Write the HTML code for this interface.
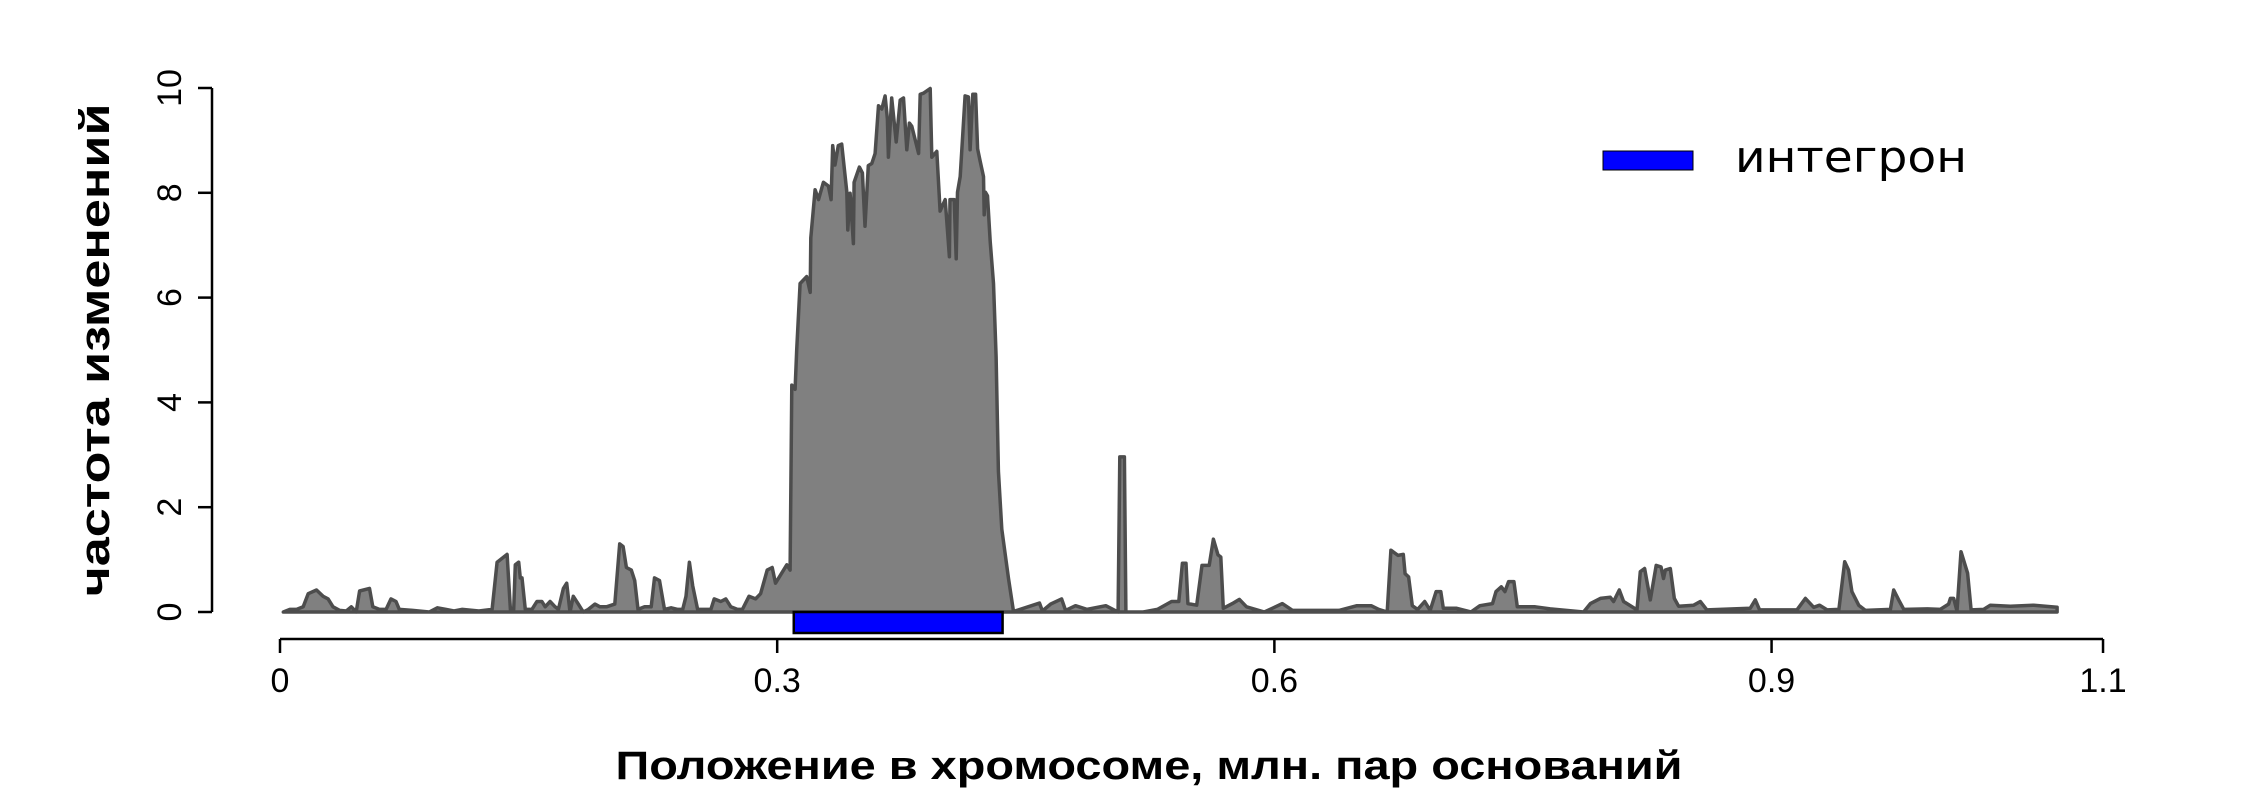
<!DOCTYPE html>
<html><head><meta charset="utf-8"><style>
html,body{margin:0;padding:0;background:#fff;}
svg{display:block;}
</style></head><body>
<svg id="chart" width="2261" height="800" xmlns="http://www.w3.org/2000/svg">
<g id="plot"></g>
<g id="axes"></g>
<text x="1149" y="779" text-anchor="middle" font-family="Liberation Sans, sans-serif" font-weight="bold" font-size="40" textLength="1067" lengthAdjust="spacingAndGlyphs">Положение в хромосоме, млн. пар оснований</text>
<text transform="translate(109,350) rotate(-90)" text-anchor="middle" font-family="Liberation Sans, sans-serif" font-weight="bold" font-size="42" textLength="493" lengthAdjust="spacingAndGlyphs">частота изменений</text>
<g>
<rect x="1603" y="151" width="90" height="19" fill="#0000ff" stroke="#000" stroke-width="1"/>
<text x="1735" y="172" font-family="DejaVu Sans, Liberation Sans, sans-serif" font-size="44" textLength="232" lengthAdjust="spacingAndGlyphs">интегрон</text>
</g>
</svg>
<script>
const posX = [0.002,0.006,0.010,0.014,0.017,0.022,0.026,0.029,0.032,0.036,0.040,0.043,0.046,0.048,0.054,0.056,0.060,0.064,0.067,0.070,0.072,0.080,0.090,0.095,0.100,0.105,0.110,0.120,0.128,0.131,0.137,0.139,0.141,0.142,0.144,0.145,0.146,0.148,0.152,0.155,0.158,0.160,0.163,0.166,0.168,0.171,0.173,0.175,0.177,0.180,0.183,0.186,0.190,0.193,0.197,0.202,0.205,0.207,0.209,0.212,0.214,0.216,0.220,0.224,0.226,0.229,0.232,0.236,0.240,0.243,0.245,0.247,0.249,0.252,0.260,0.262,0.266,0.269,0.272,0.276,0.279,0.283,0.287,0.290,0.294,0.297,0.299,0.3058,0.3078,0.3088,0.3108,0.3118,0.3138,0.3178,0.3199,0.3203,0.3229,0.3249,0.3279,0.3309,0.3325,0.3335,0.3349,0.3369,0.3389,0.3420,0.3426,0.3440,0.3460,0.3464,0.3496,0.3514,0.3530,0.3550,0.3571,0.3591,0.3611,0.3631,0.3651,0.3665,0.3671,0.3691,0.3718,0.3742,0.3762,0.3782,0.3798,0.3812,0.3853,0.3863,0.3883,0.3923,0.3933,0.3963,0.3983,0.4014,0.4039,0.4043,0.4053,0.4068,0.4080,0.4088,0.4104,0.4134,0.4154,0.4164,0.4180,0.4197,0.4209,0.4225,0.4245,0.4249,0.4257,0.4269,0.4285,0.4305,0.4321,0.4335,0.4355,0.4396,0.4426,0.4583,0.4600,0.4650,0.4716,0.4740,0.4800,0.4870,0.4983,0.5057,0.5067,0.5095,0.5104,0.5208,0.5294,0.5380,0.5423,0.5445,0.5467,0.5478,0.5531,0.5563,0.5607,0.5632,0.5660,0.5677,0.5692,0.5746,0.5789,0.5832,0.5940,0.6048,0.6110,0.6390,0.6498,0.6584,0.6630,0.6681,0.6703,0.6746,0.6778,0.6789,0.6810,0.6832,0.6864,0.6907,0.6940,0.6976,0.7004,0.7019,0.7100,0.7186,0.7240,0.7316,0.7337,0.7369,0.7391,0.7413,0.7445,0.7466,0.7574,0.7664,0.7866,0.7907,0.7967,0.8027,0.8047,0.8081,0.8107,0.8188,0.8208,0.8234,0.8268,0.8304,0.8333,0.8348,0.8359,0.8389,0.8413,0.8439,0.8530,0.8570,0.8610,0.8871,0.8902,0.8928,0.9153,0.9204,0.9254,0.9290,0.9335,0.9406,0.9441,0.9465,0.9485,0.9526,0.9566,0.9717,0.9737,0.9767,0.9798,0.9940,1.0018,1.0068,1.0079,1.0099,1.0119,1.0143,1.0183,1.0204,1.0280,1.0320,1.0441,1.0582,1.0723];
const freq = [0,0.05,0.05,0.1,0.35,0.42,0.3,0.25,0.1,0.03,0.02,0.1,0,0.4,0.45,0.1,0.05,0.05,0.25,0.2,0.05,0.03,0,0.08,0.05,0.02,0.05,0.02,0.05,0.95,1.1,0.05,0.05,0.9,0.95,0.65,0.65,0.05,0.05,0.2,0.2,0.1,0.2,0.1,0.05,0.45,0.55,0,0.3,0.15,0,0.05,0.15,0.1,0.1,0.15,1.3,1.25,0.85,0.8,0.6,0.05,0.1,0.1,0.65,0.6,0.05,0.08,0.05,0.05,0.3,0.95,0.5,0.05,0.05,0.25,0.2,0.25,0.1,0.05,0.05,0.3,0.25,0.35,0.8,0.85,0.55,0.9,0.8,4.33,4.25,5.0,6.27,6.4,6.1,7.14,8.06,7.87,8.2,8.13,7.87,8.9,8.53,8.9,8.93,8.02,7.29,7.99,7.03,8.2,8.49,8.38,7.36,8.52,8.56,8.75,9.66,9.6,9.85,9.41,8.68,9.81,8.97,9.77,9.81,8.82,9.33,9.27,8.75,9.88,9.9,9.99,8.68,8.79,7.65,7.87,6.78,7.87,7.87,7.87,6.74,8.01,8.31,9.85,9.83,8.82,9.88,9.88,8.84,8.6,8.31,7.58,8.01,7.94,7.07,6.27,4.88,2.69,1.58,0.64,0.01,0.17,0.02,0.15,0.25,0.03,0.12,0.05,0.12,0,2.96,2.96,0,0,0.05,0.2,0.2,0.93,0.93,0.16,0.13,0.89,0.89,1.39,1.09,1.05,0.07,0.16,0.24,0.1,0,0.16,0.03,0.03,0.12,0.12,0.05,0,1.18,1.08,1.1,0.73,0.67,0.12,0.05,0.2,0.03,0.39,0.39,0.07,0.07,0,0.12,0.16,0.39,0.48,0.39,0.58,0.58,0.1,0.1,0.06,0,0.16,0.26,0.28,0.2,0.42,0.2,0.04,0.77,0.83,0.23,0.89,0.86,0.64,0.8,0.83,0.26,0.11,0.13,0.2,0.04,0.07,0.23,0.04,0.04,0.26,0.09,0.13,0.04,0.05,0.96,0.8,0.39,0.13,0.03,0.05,0.42,0.23,0.05,0.06,0.05,0.15,0.26,0.26,0.02,1.15,0.74,0.04,0.05,0.13,0.11,0.13,0.09];
const xTicks = [0,0.3,0.6,0.9,1.1];
const xTickLabels = ["0","0.3","0.6","0.9","1.1"];
const yTicks = [0,2,4,6,8,10];
const yTickLabels = ["0","2","4","6","8","10"];
const integronStart = 0.31, integronEnd = 0.436;

const NS = "http://www.w3.org/2000/svg";
function sx(v){ return 280 + v*1657.3; }
function sy(v){ return 612 - v*52.4; }
function mk(tag, attrs, parent){ const e=document.createElementNS(NS,tag); for(const k in attrs) e.setAttribute(k,attrs[k]); parent.appendChild(e); return e; }

const plot = document.getElementById('plot');
const axes = document.getElementById('axes');

let d = "M" + sx(posX[0]) + "," + sy(0);
for (let i=0;i<posX.length;i++) d += " L" + sx(posX[i]).toFixed(1) + "," + sy(freq[i]).toFixed(1);
d += " L" + sx(posX[posX.length-1]) + "," + sy(0) + " Z";
const area = mk('path',{d:d, fill:'#808080', stroke:'#4d4d4d','stroke-width':3.5,'stroke-linejoin':'round'},plot);



const bar = mk('rect',{x:sx(integronStart), y:612, width:sx(integronEnd)-sx(integronStart), height:21, fill:'#0000ff', stroke:'#000','stroke-width':2.5},plot);



const xl = mk('line',{x1:sx(xTicks[0]),x2:sx(xTicks[xTicks.length-1]),y1:639,y2:639,stroke:'#000','stroke-width':2.5},axes);


xTicks.forEach((t,i)=>{
  const tk = mk('line',{x1:sx(t),x2:sx(t),y1:639,y2:653,stroke:'#000','stroke-width':2.5},axes);
  
  
  const lb = mk('text',{x:sx(t),y:692,'text-anchor':'middle','font-family':'Liberation Sans, sans-serif','font-size':34},axes);
  lb.textContent = xTickLabels[i];
  
  
});
const yl = mk('line',{x1:212,x2:212,y1:sy(yTicks[0]),y2:sy(yTicks[yTicks.length-1]),stroke:'#000','stroke-width':2.5},axes);


yTicks.forEach((t,i)=>{
  const tk = mk('line',{x1:198,x2:212,y1:sy(t),y2:sy(t),stroke:'#000','stroke-width':2.5},axes);
  
  
  const lb = mk('text',{transform:'translate(181,'+sy(t)+') rotate(-90)','text-anchor':'middle','font-family':'Liberation Sans, sans-serif','font-size':34},axes);
  lb.textContent = yTickLabels[i];
  
  
});
</script>
</body></html>
